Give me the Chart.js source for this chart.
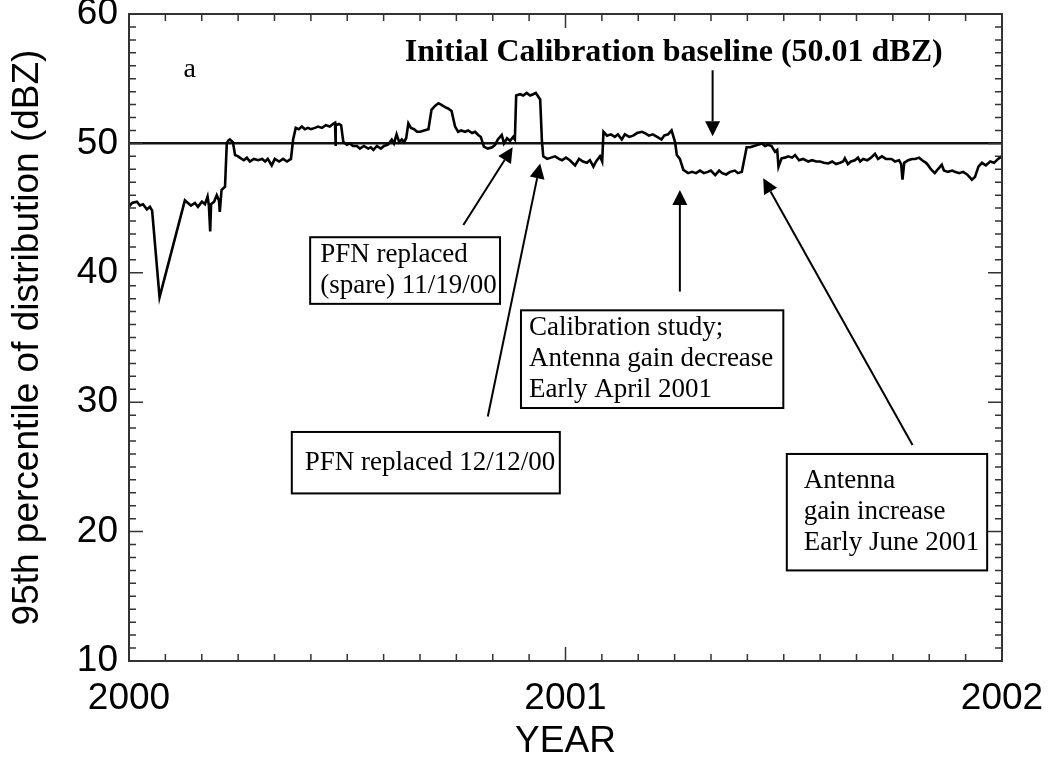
<!DOCTYPE html>
<html>
<head>
<meta charset="utf-8">
<script src="https://cdn.jsdelivr.net/npm/chart.js@4.4.1/dist/chart.umd.min.js"></script>
<style>
  html, body { margin: 0; padding: 0; background: #fff; }
  canvas { display: block; }
</style>
</head>
<body>
<canvas id="calChart" width="1051" height="759"></canvas>
<script>
// Decimal year of each reading and the 95th percentile reflectivity (dBZ)
const years = [
  2000.000, 2000.007, 2000.018, 2000.025, 2000.032, 2000.041, 2000.048, 2000.053, 2000.070, 2000.128,
  2000.135, 2000.142, 2000.151, 2000.158, 2000.167, 2000.174, 2000.180, 2000.183, 2000.186, 2000.188,
  2000.195, 2000.201, 2000.206, 2000.208, 2000.212, 2000.220, 2000.224, 2000.227, 2000.231, 2000.238,
  2000.243, 2000.250, 2000.254, 2000.263, 2000.270, 2000.277, 2000.286, 2000.296, 2000.305, 2000.312,
  2000.318, 2000.327, 2000.334, 2000.344, 2000.353, 2000.362, 2000.371, 2000.376, 2000.382, 2000.389,
  2000.396, 2000.403, 2000.410, 2000.417, 2000.426, 2000.433, 2000.442, 2000.451, 2000.460, 2000.467,
  2000.472, 2000.473, 2000.474, 2000.481, 2000.486, 2000.491, 2000.499, 2000.506, 2000.513, 2000.522,
  2000.529, 2000.538, 2000.548, 2000.554, 2000.560, 2000.568, 2000.577, 2000.584, 2000.593, 2000.602,
  2000.607, 2000.613, 2000.619, 2000.625, 2000.630, 2000.635, 2000.640, 2000.646, 2000.653, 2000.660,
  2000.667, 2000.676, 2000.686, 2000.693, 2000.701, 2000.709, 2000.715, 2000.724, 2000.731, 2000.739,
  2000.747, 2000.754, 2000.761, 2000.770, 2000.777, 2000.786, 2000.793, 2000.800, 2000.806, 2000.813,
  2000.822, 2000.832, 2000.839, 2000.845, 2000.854, 2000.859, 2000.866, 2000.873, 2000.880, 2000.884,
  2000.887, 2000.896, 2000.903, 2000.911, 2000.919, 2000.926, 2000.932, 2000.942, 2000.946, 2000.949,
  2000.958, 2000.967, 2000.976, 2000.985, 2000.992, 2001.001, 2001.010, 2001.022, 2001.031, 2001.040,
  2001.049, 2001.056, 2001.064, 2001.070, 2001.079, 2001.084, 2001.087, 2001.095, 2001.104, 2001.113,
  2001.120, 2001.129, 2001.136, 2001.146, 2001.155, 2001.164, 2001.175, 2001.182, 2001.191, 2001.200,
  2001.210, 2001.220, 2001.226, 2001.235, 2001.243, 2001.251, 2001.255, 2001.262, 2001.270, 2001.281,
  2001.290, 2001.299, 2001.308, 2001.317, 2001.326, 2001.333, 2001.343, 2001.352, 2001.359, 2001.368,
  2001.377, 2001.388, 2001.395, 2001.404, 2001.411, 2001.415, 2001.423, 2001.432, 2001.441, 2001.450,
  2001.457, 2001.464, 2001.472, 2001.480, 2001.485, 2001.488, 2001.495, 2001.503, 2001.510, 2001.519,
  2001.526, 2001.535, 2001.544, 2001.556, 2001.565, 2001.574, 2001.583, 2001.592, 2001.602, 2001.611,
  2001.620, 2001.629, 2001.636, 2001.640, 2001.647, 2001.654, 2001.663, 2001.670, 2001.675, 2001.682,
  2001.691, 2001.700, 2001.709, 2001.716, 2001.725, 2001.734, 2001.747, 2001.755, 2001.764, 2001.769,
  2001.772, 2001.776, 2001.785, 2001.794, 2001.801, 2001.810, 2001.817, 2001.826, 2001.831, 2001.837,
  2001.846, 2001.853, 2001.862, 2001.867, 2001.876, 2001.886, 2001.892, 2001.902, 2001.911, 2001.920,
  2001.931, 2001.938, 2001.946, 2001.954, 2001.963, 2001.973, 2001.982, 2001.991, 2001.999
];
const dbz = [
  45.1, 45.4, 45.5, 45.2, 45.3, 44.9, 45.1, 44.8, 38.1, 45.6,
  45.4, 45.2, 45.4, 45.1, 45.5, 45.3, 45.9, 45.2, 43.2, 45.3,
  45.5, 46.0, 45.6, 44.7, 46.4, 46.65, 50.0, 50.2, 50.3, 50.1,
  49.1, 49.0, 48.9, 48.7, 48.9, 48.6, 48.8, 48.7, 48.8, 48.6,
  48.8, 48.3, 48.8, 48.6, 48.8, 48.6, 48.8, 50.3, 51.2, 51.1,
  51.3, 51.1, 51.2, 51.1, 51.2, 51.3, 51.2, 51.4, 51.3, 51.5,
  51.6, 49.8, 51.4, 51.5, 51.4, 50.1, 49.9, 50.0, 49.8, 49.8,
  49.6, 49.8, 49.6, 49.7, 49.5, 49.8, 49.6, 49.8, 49.9, 50.3,
  50.0, 50.7, 50.1, 50.3, 50.1, 50.4, 51.55, 51.2, 51.1, 50.9,
  50.9, 51.0, 51.1, 52.6, 52.9, 53.1, 53.0, 52.8, 52.7, 52.5,
  51.3, 50.9, 51.0, 50.9, 51.0, 50.8, 50.9, 50.65, 50.5, 49.75,
  49.6, 49.7, 49.9, 50.3, 50.65, 50.0, 50.4, 50.2, 50.5, 50.3,
  53.7, 53.8, 53.7, 53.9, 53.7, 53.8, 53.9, 53.4, 50.2, 49.0,
  48.8, 48.9, 49.0, 48.8, 48.7, 48.9, 48.7, 48.3, 48.8, 48.6,
  48.5, 48.7, 48.2, 48.6, 49.0, 48.6, 50.9, 50.6, 50.7, 50.5,
  50.7, 50.3, 50.7, 50.5, 50.6, 50.8, 50.9, 50.8, 50.6, 50.7,
  50.5, 50.3, 50.6, 50.7, 51.0, 50.1, 49.1, 48.8, 47.95, 47.7,
  47.8, 47.7, 47.9, 47.7, 47.8, 47.9, 47.55, 47.9, 47.7, 47.6,
  47.8, 47.9, 47.7, 47.8, 49.0, 49.7, 49.7, 49.8, 49.9, 50.0,
  49.8, 49.9, 49.8, 49.35, 49.5, 48.2, 48.85, 48.9, 49.0, 48.9,
  49.1, 48.7, 48.8, 48.6, 48.7, 48.6, 48.6, 48.5, 48.45, 48.6,
  48.4, 48.5, 48.6, 48.85, 48.4, 48.6, 48.7, 48.9, 48.6, 48.8,
  48.7, 48.9, 49.2, 48.8, 49.0, 48.8, 48.8, 48.6, 48.7, 48.4,
  47.2, 48.5, 48.7, 48.8, 48.8, 48.9, 48.7, 48.5, 48.3, 48.0,
  47.7, 48.0, 48.35, 47.9, 47.8, 47.9, 47.8, 47.7, 47.8, 47.6,
  47.2, 47.4, 48.2, 48.5, 48.3, 48.6, 48.5, 48.8, 49.0
];
const baselineDbz = 50.01;
const yearTicks = [2000, 2001, 2002];
const baselineText = "Initial Calibration baseline (50.01 dBZ)";

// annotation boxes, given in data units (year, dBZ)
const notes = [
  { x0: 2000.415, y0: 42.75, x1: 2000.850, y1: 37.6, padX: 10, lines: ["PFN replaced", "(spare) 11/19/00"] },
  { x0: 2000.373, y0: 27.7, x1: 2000.987, y1: 22.95, padX: 13, lines: ["PFN replaced 12/12/00"] },
  { x0: 2000.898, y0: 37.1, x1: 2001.499, y1: 29.55, padX: 8, lines: ["Calibration study;", "Antenna gain decrease", "Early April 2001"] },
  { x0: 2001.507, y0: 26.0, x1: 2001.966, y1: 17.0, padX: 17, lines: ["Antenna", "gain increase", "Early June 2001"] }
];
// arrows: from tail to tip, data units
const arrows = [
  { from: [2000.766, 43.7], to: [2000.879, 49.7] },
  { from: [2000.822, 28.9], to: [2000.942, 48.45] },
  { from: [2001.262, 38.55], to: [2001.262, 46.4] },
  { from: [2001.337, 55.65], to: [2001.337, 50.55] },
  { from: [2001.795, 26.7], to: [2001.453, 47.3] }
];

const sans = "'Liberation Sans', Arial, Helvetica, sans-serif";
const serif = "'Liberation Serif', 'Times New Roman', serif";

const frameAndNotes = {
  id: "frameAndNotes",
  afterDatasetsDraw(chart) {
    const { ctx, chartArea: a, scales: { x, y } } = chart;
    ctx.save();
    ctx.strokeStyle = "#333";
    ctx.lineWidth = 2;
    ctx.strokeRect(a.left, a.top, a.right - a.left, a.bottom - a.top);

    // inward ticks: months on x, 1 dBZ on y
    ctx.lineWidth = 1.5;
    ctx.beginPath();
    for (let m = 0; m <= 24; m++) {
      const px = x.getPixelForValue(2000 + m / 12);
      const len = m % 12 === 0 ? 14 : 7;
      ctx.moveTo(px, a.bottom); ctx.lineTo(px, a.bottom - len);
      ctx.moveTo(px, a.top); ctx.lineTo(px, a.top + len);
    }
    for (let v = 10; v <= 60; v++) {
      const py = y.getPixelForValue(v);
      const len = v % 10 === 0 ? 14 : 7;
      ctx.moveTo(a.left, py); ctx.lineTo(a.left + len, py);
      ctx.moveTo(a.right, py); ctx.lineTo(a.right - len, py);
    }
    ctx.stroke();

    // labels
    ctx.fillStyle = "#000";
    ctx.font = "28px " + serif;
    ctx.textBaseline = "middle";
    ctx.fillText("a", x.getPixelForValue(2000.125), y.getPixelForValue(55.7));
    ctx.font = "bold 32px " + serif;
    ctx.textBaseline = "alphabetic";
    ctx.fillText(baselineText, x.getPixelForValue(2000.632), y.getPixelForValue(56.4));

    // boxes
    ctx.font = "27px " + serif;
    ctx.textBaseline = "middle";
    ctx.strokeStyle = "#000";
    ctx.lineWidth = 2;
    const lh = 31;
    notes.forEach(n => {
      const l = x.getPixelForValue(n.x0), r = x.getPixelForValue(n.x1);
      const t = y.getPixelForValue(n.y0), b = y.getPixelForValue(n.y1);
      ctx.strokeRect(l, t, r - l, b - t);
      const first = t + (b - t - (n.lines.length - 1) * lh) / 2;
      n.lines.forEach((s, i) => ctx.fillText(s, l + n.padX, first + i * lh));
    });

    // arrows
    arrows.forEach(ar => {
      const x0 = x.getPixelForValue(ar.from[0]), y0 = y.getPixelForValue(ar.from[1]);
      const x1 = x.getPixelForValue(ar.to[0]), y1 = y.getPixelForValue(ar.to[1]);
      const ang = Math.atan2(y1 - y0, x1 - x0);
      const hl = 15, hw = 7.5;
      const bx = x1 - hl * Math.cos(ang), by = y1 - hl * Math.sin(ang);
      ctx.beginPath();
      ctx.moveTo(x0, y0); ctx.lineTo(bx, by);
      ctx.stroke();
      ctx.beginPath();
      ctx.moveTo(x1, y1);
      ctx.lineTo(bx + hw * Math.sin(ang), by - hw * Math.cos(ang));
      ctx.lineTo(bx - hw * Math.sin(ang), by + hw * Math.cos(ang));
      ctx.closePath();
      ctx.fill();
    });
    ctx.restore();
  }
};

function squeeze(size, key) {
  return function (scale) {
    scale[key] = size;
    scale.paddingLeft = 0; scale.paddingRight = 0;
    scale.paddingTop = 0; scale.paddingBottom = 0;
  };
}

new Chart(document.getElementById("calChart"), {
  type: "line",
  data: {
    datasets: [{
      data: years.map((yr, i) => ({ x: yr, y: dbz[i] })),
      borderColor: "#000",
      borderWidth: 2.6,
      pointRadius: 0,
      tension: 0
    }, {
      data: [{ x: yearTicks[0], y: baselineDbz }, { x: yearTicks[2], y: baselineDbz }],
      borderColor: "#111",
      borderWidth: 2.5,
      pointRadius: 0
    }]
  },
  options: {
    responsive: false,
    animation: false,
    devicePixelRatio: 1,
    layout: { padding: { left: 0, right: 49, top: 14, bottom: 0 } },
    plugins: { legend: { display: false }, tooltip: { enabled: false } },
    scales: {
      x: {
        type: "linear",
        min: 2000,
        max: 2002,
        afterFit: squeeze(98, "height"),
        afterBuildTicks: s => { s.ticks = yearTicks.map(v => ({ value: v })); },
        grid: { display: false, drawTicks: false },
        border: { display: false },
        ticks: {
          padding: 16,
          color: "#000",
          font: { family: sans, size: 37 },
          maxRotation: 0,
          callback: v => String(v)
        },
        title: {
          display: true,
          text: "YEAR",
          color: "#000",
          font: { family: sans, size: 37, lineHeight: 0.9 },
          padding: { top: 0, bottom: 1 }
        }
      },
      y: {
        min: 10,
        max: 60,
        afterFit: squeeze(129, "width"),
        grid: { display: false, drawTicks: false },
        border: { display: false },
        ticks: {
          stepSize: 10,
          padding: 11,
          color: "#000",
          font: { family: sans, size: 37 }
        },
        title: {
          display: true,
          text: "95th percentile of distribution (dBZ)",
          color: "#000",
          font: { family: sans, size: 37, lineHeight: 1 },
          padding: { top: 9, bottom: 0 }
        }
      }
    }
  },
  plugins: [frameAndNotes]
});
</script>
</body>
</html>
